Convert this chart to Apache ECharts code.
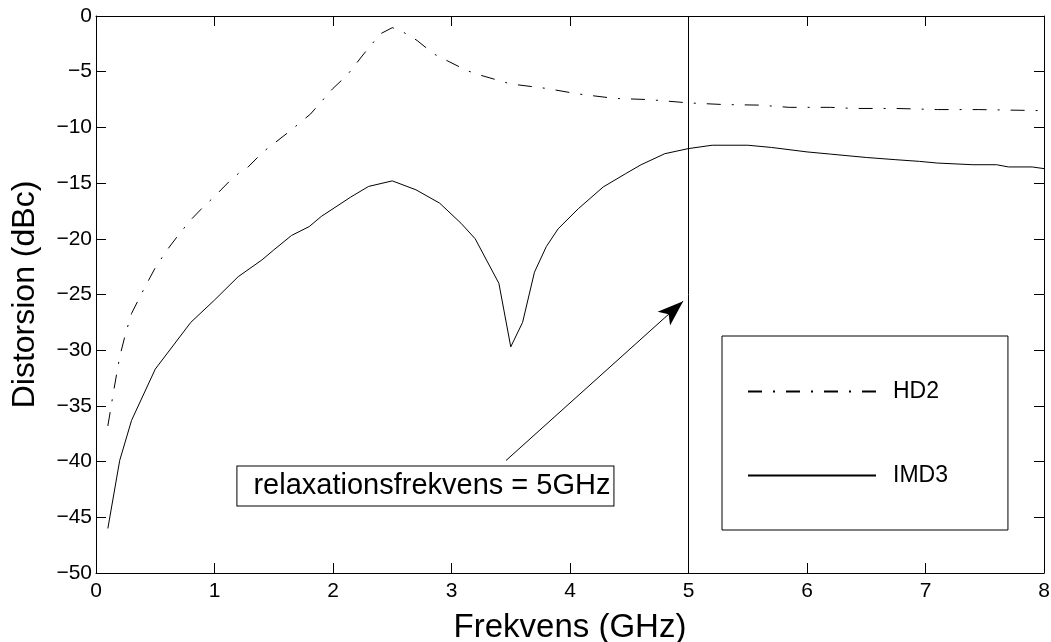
<!DOCTYPE html>
<html>
<head>
<meta charset="utf-8">
<script src="https://cdn.jsdelivr.net/npm/echarts@6/dist/echarts.min.js"></script>
<style>
  html, body { margin: 0; padding: 0; background: #fff; }
  #chart { width: 1051px; height: 642px; }
</style>
</head>
<body>
<div id="chart"></div>
<script>
// HD2 (dash-dot) curve, frequency in GHz and distortion in dBc
const hd2Freq = [0.1, 0.15, 0.2, 0.25, 0.3, 0.4, 0.5, 0.6, 0.7, 0.8, 0.9, 1.0, 1.12, 1.2, 1.27, 1.41, 1.64, 1.81, 2.0, 2.12, 2.26, 2.4, 2.5, 2.57, 2.71, 2.85, 2.98, 3.13, 3.24, 3.5, 3.8, 4.07, 4.38, 4.66, 5.0, 5.3, 5.6, 5.85, 6.2, 6.4, 6.75, 7.1, 7.45, 8.0];
const hd2Val = [-36.8, -33.6, -30.6, -28.5, -26.7, -24.6, -22.6, -21.0, -19.6, -18.3, -17.2, -16.2, -14.9, -14.15, -13.7, -12.2, -10.3, -8.8, -6.5, -5.3, -3.4, -1.6, -1.05, -1.3, -2.2, -3.4, -4.1, -4.9, -5.3, -6.1, -6.5, -7.0, -7.4, -7.5, -7.8, -7.95, -8.0, -8.2, -8.2, -8.3, -8.3, -8.4, -8.4, -8.5];

// IMD3 (solid) curve
const imd3Freq = [0.1, 0.2, 0.3, 0.5, 0.8, 1.0, 1.2, 1.4, 1.5, 1.65, 1.8, 1.9, 2.0, 2.15, 2.3, 2.5, 2.7, 2.9, 3.08, 3.2, 3.4, 3.5, 3.6, 3.7, 3.8, 3.9, 4.07, 4.28, 4.47, 4.6, 4.8, 5.0, 5.2, 5.5, 5.7, 6.0, 6.2, 6.5, 6.75, 6.95, 7.1, 7.4, 7.6, 7.7, 7.9, 8.0];
const imd3Val = [-46.0, -39.9, -36.3, -31.7, -27.5, -25.5, -23.4, -21.9, -21.0, -19.7, -18.9, -18.0, -17.3, -16.25, -15.3, -14.8, -15.6, -16.8, -18.6, -20.0, -24.0, -29.7, -27.5, -23.0, -20.7, -19.1, -17.3, -15.35, -14.15, -13.35, -12.36, -11.9, -11.6, -11.6, -11.8, -12.2, -12.4, -12.7, -12.9, -13.05, -13.2, -13.35, -13.35, -13.55, -13.55, -13.7];

// annotation
const relaxFreq = 5;
const arrowFrom = [3.46, -39.9];
const arrowTo = [4.955, -25.6];
const noteAt = [2.78, -42.2];
const noteText = 'relaxationsfrekvens = 5GHz';

const FONT = "'Liberation Sans', Arial, Helvetica, sans-serif";

const pairs = (xs, ys) => xs.map((x, i) => [x, ys[i]]);
const minusFmt = v => (v < 0 ? '\u2212' + Math.abs(v) : String(v));

const chart = echarts.init(document.getElementById('chart'));

const frameAxis = {
    axisLine: { show: true, onZero: false, lineStyle: { color: '#000', width: 1 } },
    axisTick: { show: true, inside: true, length: 10, lineStyle: { color: '#000', width: 1 } },
    splitLine: { show: false }
};

chart.setOption({
    animation: false,
    textStyle: { fontFamily: FONT, color: '#000' },
    grid: { left: 96, right: 7, top: 16, bottom: 69, containLabel: false, outerBoundsMode: 'none' },
    xAxis: [
        Object.assign({}, frameAxis, {
            type: 'value', position: 'bottom', min: 0, max: 8, interval: 1,
            axisLabel: { color: '#000', fontSize: 21, fontFamily: FONT, margin: 8 },
            name: 'Frekvens (GHz)', nameLocation: 'middle', nameGap: 38,
            nameTextStyle: { color: '#000', fontSize: 33, fontFamily: FONT }
        }),
        Object.assign({}, frameAxis, {
            type: 'value', position: 'top', min: 0, max: 8, interval: 1,
            axisLabel: { show: false }
        })
    ],
    yAxis: [
        Object.assign({}, frameAxis, {
            type: 'value', position: 'left', min: -50, max: 0, interval: 5,
            axisLabel: { color: '#000', fontSize: 21, fontFamily: FONT, margin: 4, formatter: minusFmt },
            name: 'Distorsion (dBc)', nameLocation: 'middle', nameGap: 55,
            nameTextStyle: { color: '#000', fontSize: 32, fontFamily: FONT }
        }),
        Object.assign({}, frameAxis, {
            type: 'value', position: 'right', min: -50, max: 0, interval: 5,
            axisLabel: { show: false }
        })
    ],
    legend: {
        left: 722, top: 336,
        orient: 'vertical',
        data: ['HD2', 'IMD3'],
        itemWidth: 128, itemHeight: 14, itemGap: 61,
        padding: [44, 60, 43, 25],
        borderColor: '#000', borderWidth: 1, backgroundColor: '#fff',
        itemStyle: { opacity: 0 },
        textStyle: { color: '#000', fontSize: 23, fontFamily: FONT, padding: [0, 0, 0, 12] }
    },
    series: [
        {
            name: 'HD2', type: 'line', symbol: 'none', showSymbol: false,
            data: pairs(hd2Freq, hd2Val),
            itemStyle: { color: '#000' },
            lineStyle: { color: '#000', width: 1, type: [14, 11, 2, 11] }
        },
        {
            name: 'IMD3', type: 'line', symbol: 'none', showSymbol: false,
            data: pairs(imd3Freq, imd3Val),
            itemStyle: { color: '#000' },
            lineStyle: { color: '#000', width: 1, type: 'solid' },
            markLine: {
                silent: true, symbol: ['none', 'none'],
                label: { show: false },
                lineStyle: { color: '#000', width: 1, type: 'solid' },
                data: [
                    [{ coord: [relaxFreq, -50] }, { coord: [relaxFreq, 0] }],
                    [
                        { coord: arrowFrom, symbol: 'none' },
                        { coord: arrowTo, symbol: 'arrow', symbolSize: [14, 26] }
                    ]
                ]
            },
            markPoint: {
                silent: true, symbol: 'rect', symbolSize: 0,
                data: [{ coord: noteAt }],
                label: {
                    show: true, position: 'inside', formatter: noteText,
                    color: '#000', fontSize: 29, fontFamily: FONT,
                    backgroundColor: '#fff', borderColor: '#000', borderWidth: 1,
                    padding: [5, 3, 5, 16]
                }
            }
        }
    ]
});
</script>
</body>
</html>
